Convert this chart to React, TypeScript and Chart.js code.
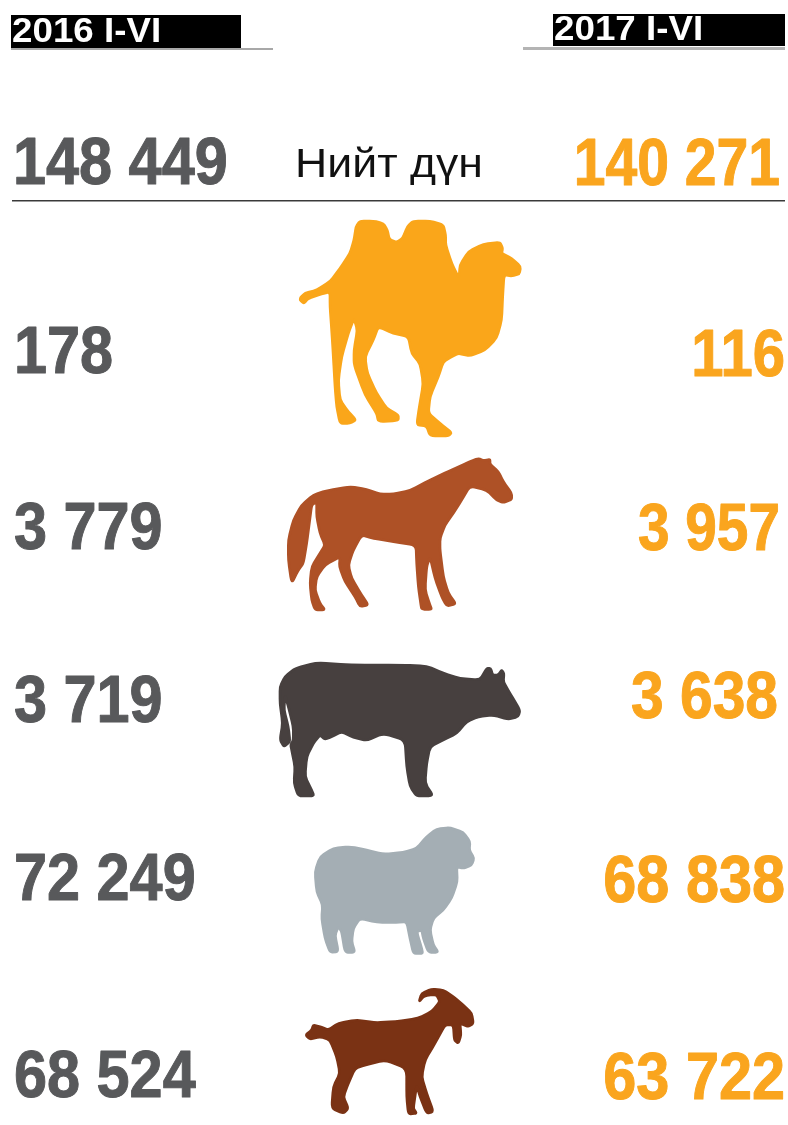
import React, { useEffect, useRef } from "react";
import { Chart, registerables } from "chart.js";

Chart.register(...registerables);

const rows = ["Нийт дүн", "Тэмээ", "Адуу", "Үхэр", "Хонь", "Ямаа"];
const values2016 = [148449, 178, 3779, 3719, 72249, 68524];
const values2017 = [140271, 116, 3957, 3638, 68838, 63722];
const headers = ["2016 I-VI", "2017 I-VI"];

const W = 788;
const H = 1125;
const rowY2016 = [166, 355, 531, 704, 882, 1079];
const rowY2017 = [167, 358, 532, 700, 884, 1081];
const rowX2016 = [13, 14, 14, 14, 14, 14];
const rowX2017 = [780, 785, 780, 778, 785, 785];
const rowFit2017 = [0.865, 0.88, 0.86, 0.89, 0.9, 0.9];
const GREY = "#58595B";
const ORANGE = "#FAA51E";

type Icon = { color: string; cx: number; cy: number; w: number; h: number; pts: number[] };
const icons: Icon[] = [
  { color: "#FAA61A", cx: 410, cy: 325, w: 260, h: 230, pts: [62,262,75,250,110,240,150,215,180,175,210,130,222,90,228,50,240,33,280,33,310,40,322,60,328,88,350,97,368,85,382,50,400,33,450,33,490,45,497,75,497,105,515,160,537,205,540,165,565,125,610,102,660,97,668,115,665,130,695,145,722,170,718,192,695,198,672,195,668,260,665,330,650,385,615,420,570,438,535,430,515,440,490,455,475,500,450,560,445,610,480,640,515,668,505,678,450,678,440,648,410,645,418,590,430,520,420,460,395,430,385,380,340,370,295,350,280,390,255,440,262,490,290,550,320,595,355,615,355,632,295,635,290,610,255,555,222,465,222,420,232,360,222,325,205,370,185,440,175,510,180,570,205,605,228,630,210,640,180,640,170,590,165,530,160,440,155,360,150,290,150,245,115,255,85,265,72,280,60,270] },
  { color: "#AE5126", cx: 400, cy: 535, w: 260, h: 170, pts: [65,400,55,330,55,270,70,210,95,165,130,135,170,122,240,110,290,118,330,132,370,132,420,122,480,90,540,62,600,35,625,25,640,32,660,28,660,42,685,65,700,95,725,130,725,148,700,158,680,150,650,120,600,108,575,150,550,190,525,225,510,265,510,300,520,380,535,430,558,462,530,468,515,440,495,385,480,320,470,350,465,420,480,465,485,478,455,478,452,460,445,410,440,340,438,285,370,275,310,265,275,255,250,300,235,345,245,385,275,435,295,465,270,470,255,440,225,395,208,350,210,320,165,345,140,380,135,420,150,460,165,480,135,480,125,450,120,400,125,350,150,310,165,285,150,250,140,200,140,155,125,165,118,220,110,280,100,340,85,360] },
  { color: "#47403F", cx: 400, cy: 727.5, w: 260, h: 155, pts: [42,290,30,270,38,220,30,160,30,110,45,80,75,55,140,38,240,45,400,45,470,48,520,70,570,85,630,90,650,55,662,55,668,75,685,75,695,60,702,70,700,95,720,130,750,180,745,200,715,208,670,195,625,200,590,215,560,250,520,270,480,290,470,340,465,400,490,438,440,438,420,410,410,350,405,270,340,250,290,272,250,262,215,245,185,260,165,268,150,255,130,280,110,320,105,380,125,420,132,438,85,438,72,400,75,350,65,300,62,285,70,270,70,230,55,170,45,135,42,180,55,230,60,275] },
  { color: "#A4AEB4", cx: 395, cy: 887.5, w: 190, h: 145, pts: [45,170,60,125,100,100,150,95,200,105,250,118,310,112,350,100,380,65,410,42,450,38,490,52,510,80,508,105,522,130,515,150,490,160,470,155,472,200,455,250,430,285,400,310,390,345,400,390,415,412,385,412,370,370,365,345,350,350,365,400,368,415,340,415,330,370,320,320,290,322,230,322,180,310,160,340,155,380,165,412,135,412,125,350,115,335,105,360,115,410,90,412,75,370,65,310,68,270,50,230] },
  { color: "#7A3214", cx: 390, cy: 1052.5, w: 190, h: 145, pts: [32,165,50,150,55,135,75,140,100,150,130,130,185,120,240,128,300,125,370,115,410,95,435,65,425,45,400,45,385,50,372,65,380,40,410,27,445,30,475,50,505,75,530,100,535,130,520,140,495,130,498,165,490,190,478,180,475,135,450,135,420,190,390,240,380,290,395,340,415,395,395,400,375,350,365,315,360,350,355,385,365,400,340,402,335,350,335,265,270,240,210,255,180,265,160,310,145,350,160,385,145,400,110,385,115,320,135,280,125,230,105,180,75,170,45,178] },
];

function iconCanvas(ic: Icon): HTMLCanvasElement {
  const c = document.createElement("canvas");
  c.width = ic.w;
  c.height = ic.h;
  const g = c.getContext("2d")!;
  g.scale(1 / 3, 1 / 3);
  g.fillStyle = ic.color;
  g.strokeStyle = ic.color;
  g.lineWidth = 8;
  g.lineJoin = "round";
  (g as any).filter = "blur(0.7px)";
  const p = ic.pts;
  const n = p.length / 2;
  const pt = (i: number) => [p[2 * ((i + n) % n)], p[2 * ((i + n) % n) + 1]];
  const K = 0.28;
  const lerp = (a: number[], b: number[], t: number) => [a[0] + (b[0] - a[0]) * t, a[1] + (b[1] - a[1]) * t];
  g.beginPath();
  for (let i = 0; i < n; i++) {
    const v = pt(i);
    const s = lerp(v, pt(i - 1), K);
    const e = lerp(v, pt(i + 1), K);
    if (i === 0) g.moveTo(s[0], s[1]);
    else g.lineTo(s[0], s[1]);
    g.quadraticCurveTo(v[0], v[1], e[0], e[1]);
  }
  g.closePath();
  g.fill();
  g.stroke();
  return c;
}

const fmt = (v: number) => String(v).replace(/\B(?=(\d{3})+$)/g, " ");

function stretched(
  ctx: CanvasRenderingContext2D,
  text: string,
  x: number,
  y: number,
  font: string,
  color: string,
  align: CanvasTextAlign,
  sx: number,
  heavy = 0
) {
  ctx.save();
  ctx.translate(x, y);
  ctx.scale(sx, 1);
  ctx.font = font;
  ctx.fillStyle = color;
  ctx.strokeStyle = color;
  ctx.lineWidth = heavy;
  ctx.lineJoin = "round";
  ctx.textAlign = align;
  ctx.textBaseline = "middle";
  ctx.fillText(text, 0, 0);
  if (heavy > 0) ctx.strokeText(text, 0, 0);
  ctx.restore();
}

const NUM_FONT = 'bold 66px "Liberation Sans", Arial, sans-serif';
const HEAD_FONT = 'bold 35px "Liberation Sans", Arial, sans-serif';

const decor = {
  id: "decor",
  afterDatasetsDraw(chart: any) {
    const ctx: CanvasRenderingContext2D = chart.ctx;
    const x = chart.scales.x;
    const y = chart.scales.y;
    const box = (x0: number, y0: number, x1: number, y1: number, col: string) => {
      ctx.fillStyle = col;
      ctx.fillRect(x.getPixelForValue(x0), y.getPixelForValue(y0), x.getPixelForValue(x1) - x.getPixelForValue(x0), y.getPixelForValue(y1) - y.getPixelForValue(y0));
    };
    box(11, 15, 241, 48, "#000");
    box(11, 48, 273, 50, "#a8a8a8");
    box(553, 14, 785, 46, "#000");
    box(523, 47, 785, 50, "#b4b4b4");
    box(12, 200, 785, 201.5, "#3a3a3a");
    stretched(ctx, headers[0], 12, 32, HEAD_FONT, "#fff", "left", 1.05);
    stretched(ctx, headers[1], 554, 30, HEAD_FONT, "#fff", "left", 1.05);
    stretched(ctx, rows[0], 389, 166, '40px "Liberation Sans", Arial, sans-serif', "#111", "center", 1.115);
    chart.getDatasetMeta(0).data.forEach((el: any, i: number) => {
      stretched(ctx, fmt(values2016[i]), el.x, el.y, NUM_FONT, GREY, "left", 0.9, 1);
    });
    chart.getDatasetMeta(1).data.forEach((el: any, i: number) => {
      stretched(ctx, fmt(values2017[i]), el.x, el.y, NUM_FONT, ORANGE, "right", rowFit2017[i], 1);
    });
  },
};

export default function App() {
  const ref = useRef<HTMLCanvasElement>(null);
  useEffect(() => {
    document.body.style.margin = "0";
    const chart = new Chart(ref.current!, {
      type: "scatter",
      data: {
        datasets: [
          { label: "2016 I-VI", data: values2016.map((_, i) => ({ x: rowX2016[i], y: rowY2016[i] })), pointRadius: 0 },
          { label: "2017 I-VI", data: values2017.map((_, i) => ({ x: rowX2017[i], y: rowY2017[i] })), pointRadius: 0 },
          {
            label: "Мал",
            data: icons.map((ic) => ({ x: ic.cx, y: ic.cy })),
            pointStyle: icons.map(iconCanvas) as any,
            pointRadius: 10,
            clip: false,
          },
        ],
      },
      options: {
        animation: false,
        responsive: false,
        events: [],
        layout: { padding: 0, autoPadding: false },
        plugins: { legend: { display: false }, tooltip: { enabled: false }, title: { display: false } },
        scales: {
          x: { type: "linear", min: 0, max: W, display: false },
          y: { type: "linear", min: 0, max: H, reverse: true, display: false },
        },
      },
      plugins: [decor],
    } as any);
    return () => chart.destroy();
  }, []);
  return <canvas ref={ref} width={W} height={H} style={{ display: "block", width: W, height: H }} />;
}
